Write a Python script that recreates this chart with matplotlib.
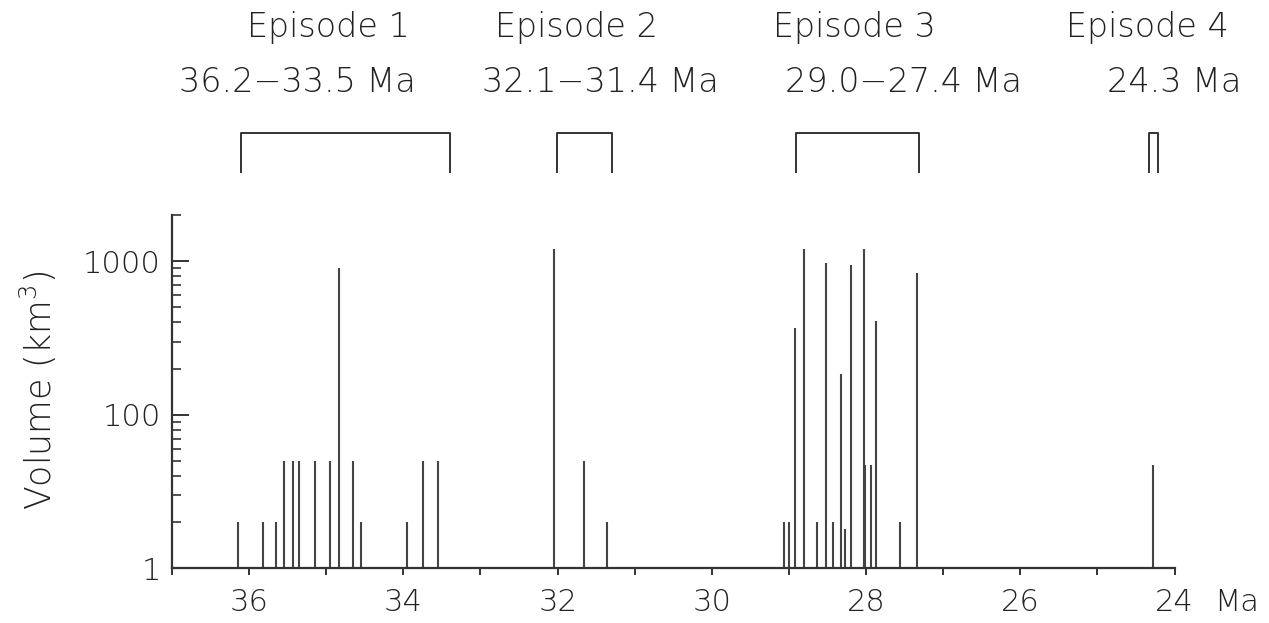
import numpy as np
import matplotlib
matplotlib.use("Agg")
import matplotlib.pyplot as plt
from matplotlib.ticker import FixedLocator, FuncFormatter, LogLocator, NullFormatter
from matplotlib.transforms import blended_transform_factory

# -----------------------------
# Eruption ages (Ma) and volumes (km^3)
# -----------------------------
ep1_age = [36.15, 35.82, 35.65, 35.55, 35.43, 35.35, 35.15, 34.95, 34.84,
           34.65, 34.55, 33.95, 33.75, 33.55]
ep1_vol = [20, 20, 20, 50, 50, 50, 50, 50, 900, 50, 20, 20, 50, 50]

ep2_age = [32.05, 31.66, 31.36]
ep2_vol = [1200, 50, 20]

ep3_age = [29.06, 29.00, 28.92, 28.80, 28.64, 28.52, 28.43, 28.33, 28.27,
           28.19, 28.03, 28.01, 27.94, 27.87, 27.56, 27.34]
ep3_vol = [20, 20, 370, 1200, 20, 980, 20, 185, 18, 940, 1200, 47, 47,
           410, 20, 840]

ep4_age = [24.28]
ep4_vol = [47]

# episode brackets as drawn (Ma)
ep_names = ["Episode 1", "Episode 2", "Episode 3", "Episode 4"]
ep_ranges = ["36.2\u221233.5 Ma", "32.1\u221231.4 Ma", "29.0\u221227.4 Ma", "24.3 Ma"]
br_start = [36.10, 32.01, 28.91, 24.33]
br_end = [33.40, 31.30, 27.31, 24.22]

# x ticks
xticks = np.arange(24, 38, 1)

# -----------------------------
# layout (text centres in Ma)
# -----------------------------
name_x = [34.97, 31.76, 28.15, 24.35]
range_x = [35.38, 31.45, 27.51, 24.00]

W, H = 1269, 623
ink = "#333333"
txt = "#222222"
plt.rcParams["font.family"] = ["DejaVu Sans"]
plt.rcParams["font.weight"] = "ultralight"
plt.rcParams["mathtext.fontset"] = "dejavusans"

fig = plt.figure(figsize=(W / 100, H / 100), dpi=100)
ax = fig.add_axes([172 / W, (H - 568.3) / H, (1174.5 - 172) / W, (568.3 - 215) / H])

ages = ep1_age + ep2_age + ep3_age + ep4_age
vols = ep1_vol + ep2_vol + ep3_vol + ep4_vol
ax.vlines(ages, 10, vols, color="#444444", lw=1.5)

ax.set_yscale("log")
ax.set_ylim(10, 2000)
ax.set_xlim(37, 24)

ax.yaxis.set_major_locator(FixedLocator([10, 100, 1000]))
ax.yaxis.set_major_formatter(FuncFormatter(lambda v, p: {10: "1", 100: "100", 1000: "1000"}.get(int(round(v)), "")))
ax.yaxis.set_minor_locator(LogLocator(base=10, subs=np.arange(2, 10)))
ax.yaxis.set_minor_formatter(NullFormatter())

ax.xaxis.set_major_locator(FixedLocator(xticks))
ax.xaxis.set_major_formatter(FuncFormatter(lambda v, p: f"{int(round(v))}" if int(round(v)) % 2 == 0 else ""))
ax.xaxis.set_minor_locator(FixedLocator([]))

for s in ["top", "right"]:
    ax.spines[s].set_visible(False)
for s in ["left", "bottom"]:
    ax.spines[s].set_color(ink)
    ax.spines[s].set_linewidth(1.6)

ax.tick_params(axis="y", which="major", direction="in", length=12, width=1.4,
               color=ink, labelsize=22, labelcolor=txt, pad=8)
ax.tick_params(axis="y", which="minor", direction="in", length=6.5, width=1.2, color=ink)
ax.tick_params(axis="x", which="major", direction="out", length=5, width=1.4,
               color=ink, labelsize=22, labelcolor=txt, pad=9)

ax.text(1.062, -20 / 353.3, "Ma", transform=ax.transAxes, ha="center", va="top",
        fontsize=22, color=txt)

fig.text(38 / W, 1 - 390 / H, "Volume (km$^3$)", rotation=90, ha="center", va="center",
         fontsize=25, color=txt)

# episode brackets and labels above the axes
trans = blended_transform_factory(ax.transData, fig.transFigure)
y_top = 1 - 133 / H
y_bot = 1 - 171.5 / H
for i in range(4):
    ax.plot([br_start[i], br_start[i], br_end[i], br_end[i]],
            [y_bot, y_top, y_top, y_bot], transform=trans, clip_on=False,
            color=ink, lw=1.4)
    ax.text(name_x[i], 1 - 37 / H, ep_names[i], transform=trans, ha="center",
            va="baseline", fontsize=24, color=txt)
    ax.text(range_x[i], 1 - 92 / H, ep_ranges[i], transform=trans, ha="center",
            va="baseline", fontsize=24, color=txt)

fig.savefig("out.png", dpi=100)
